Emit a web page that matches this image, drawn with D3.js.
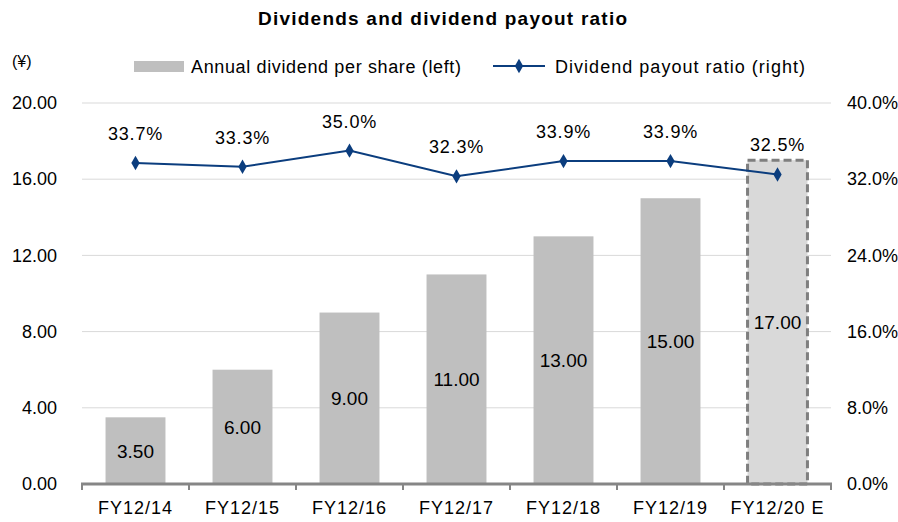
<!DOCTYPE html>
<html><head><meta charset="utf-8">
<script src="https://cdn.jsdelivr.net/npm/d3@7"></script>
<style>body{margin:0;background:#fff}svg{display:block}text{font-family:"Liberation Sans",Arial,sans-serif;fill:#000}</style>
</head><body><svg id="c" width="898" height="522"></svg>
<script>
const categories = ["FY12/14","FY12/15","FY12/16","FY12/17","FY12/18","FY12/19","FY12/20 E"];
const dividends = [3.50, 6.00, 9.00, 11.00, 13.00, 15.00, 17.00];
const payoutRatio = [33.7, 33.3, 35.0, 32.3, 33.9, 33.9, 32.5];
const leftTicks = [0, 4, 8, 12, 16, 20];
const rightTicks = [0, 8, 16, 24, 32, 40];
const estimateIndex = 6;

const svg = d3.select("#c");
const m = {l: 82, r: 831, t: 103, b: 484};
const x = d3.scaleBand().domain(categories).range([m.l, m.r]).paddingInner(0.44).paddingOuter(0.22);
const yL = d3.scaleLinear().domain([0, 20]).range([m.b, m.t]);
const yR = d3.scaleLinear().domain([0, 40]).range([m.b, m.t]);

// title
svg.append("text").attr("x", 258).attr("y", 25)
  .attr("textLength", 369).attr("lengthAdjust", "spacing")
  .style("font-size", "19px").style("font-weight", "bold").text("Dividends and dividend payout ratio");
svg.append("text").attr("x", 12).attr("y", 67).style("font-size", "16px").text("(¥)");

// gridlines
svg.append("g").selectAll("line").data(leftTicks.filter(d => d > 0)).join("line")
  .attr("x1", m.l).attr("x2", m.r).attr("y1", d => yL(d)).attr("y2", d => yL(d))
  .attr("stroke", "#d9d9d9").attr("stroke-width", 1);

// left axis
const gL = svg.append("g").attr("transform", `translate(${m.l},0)`)
  .call(d3.axisLeft(yL).tickValues(leftTicks).tickFormat(d3.format(".2f")).tickSize(0).tickPadding(25));
gL.select(".domain").remove();
gL.selectAll("text").style("font-size", "18px").style("font-family", "'Liberation Sans',Arial,sans-serif");

// right axis
const gR = svg.append("g").attr("transform", `translate(${m.r},0)`)
  .call(d3.axisRight(yR).tickValues(rightTicks).tickFormat(d => d.toFixed(1) + "%").tickSize(0).tickPadding(16));
gR.select(".domain").remove();
gR.selectAll("text").style("font-size", "18px").style("font-family", "'Liberation Sans',Arial,sans-serif");

// bars
svg.append("g").selectAll("rect").data(dividends).join("rect")
  .attr("x", (d, i) => x(categories[i]))
  .attr("width", x.bandwidth())
  .attr("y", d => yL(d)).attr("height", d => yL(0) - yL(d))
  .attr("fill", (d, i) => i === estimateIndex ? "#d9d9d9" : "#bfbfbf")
  .attr("stroke", (d, i) => i === estimateIndex ? "#7f7f7f" : "none")
  .attr("stroke-width", 3).attr("stroke-dasharray", "8,4");

// bar labels
svg.append("g").selectAll("text").data(dividends).join("text")
  .attr("x", (d, i) => x(categories[i]) + x.bandwidth() / 2)
  .attr("y", d => (yL(d) + yL(0)) / 2).attr("dy", "0.36em")
  .attr("text-anchor", "middle").style("font-size", "19px").text(d => d.toFixed(2));

// x axis
const gX = svg.append("g").attr("transform", `translate(0,${m.b})`);
gX.append("line").attr("x1", m.l - 1).attr("x2", m.r + 1).attr("stroke", "#868686").attr("stroke-width", 3);
const bounds = categories.map(c => x(c) - x.step() * x.paddingInner() / 2).concat([m.r]);
gX.selectAll(".tk").data(bounds).join("line").attr("class", "tk")
  .attr("x1", d => d).attr("x2", d => d).attr("y1", 0).attr("y2", 6)
  .attr("stroke", "#868686").attr("stroke-width", 2);
gX.selectAll(".lb").data(categories).join("text").attr("class", "lb")
  .attr("x", d => x(d) + x.bandwidth() / 2).attr("y", 30)
  .attr("text-anchor", "middle").style("font-size", "18px").style("letter-spacing", "1px").text(d => d);

// line
const cx = i => x(categories[i]) + x.bandwidth() / 2;
svg.append("path").datum(payoutRatio)
  .attr("d", d3.line().x((d, i) => cx(i)).y(d => yR(d)))
  .attr("fill", "none").attr("stroke", "#0b3d7e").attr("stroke-width", 2);
const diamond = d3.symbol().type(d3.symbolDiamond).size(60);
svg.append("g").selectAll("path").data(payoutRatio).join("path")
  .attr("d", diamond).attr("transform", (d, i) => `translate(${cx(i)},${yR(d)})`)
  .attr("fill", "#0b3d7e");
svg.append("g").selectAll("text").data(payoutRatio).join("text")
  .attr("x", (d, i) => cx(i)).attr("y", d => yR(d) - 23)
  .attr("text-anchor", "middle").style("font-size", "18px").style("letter-spacing", "0.8px").text(d => d.toFixed(1) + "%");

// legend
const lg = svg.append("g");
lg.append("rect").attr("x", 134).attr("y", 61).attr("width", 50).attr("height", 11).attr("fill", "#bfbfbf");
lg.append("text").attr("x", 191).attr("y", 73).attr("textLength", 270).attr("lengthAdjust", "spacing")
  .style("font-size", "18px").text("Annual dividend per share (left)");
lg.append("line").attr("x1", 493).attr("x2", 545).attr("y1", 66).attr("y2", 66).attr("stroke", "#0b3d7e").attr("stroke-width", 2);
lg.append("path").attr("d", diamond).attr("transform", "translate(519,66)").attr("fill", "#0b3d7e");
lg.append("text").attr("x", 555).attr("y", 73).attr("textLength", 250).attr("lengthAdjust", "spacing")
  .style("font-size", "18px").text("Dividend payout ratio (right)");
</script></body></html>
